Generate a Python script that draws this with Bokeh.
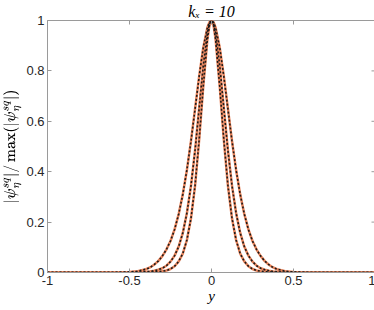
import math
from bokeh.plotting import figure
from bokeh.models import FixedTicker, PrintfTickFormatter, Range1d, Title
from bokeh.embed import file_html
from bokeh.resources import INLINE

# y coordinate
y_vals = [-1.0, -0.8, -0.6, -0.5, -0.45, -0.4, -0.375, -0.35, -0.325, -0.3, -0.275,
          -0.25, -0.225, -0.2, -0.175, -0.15, -0.125, -0.1, -0.075, -0.05, -0.025, -0.0125,
          0.0,
          0.0125, 0.025, 0.05, 0.075, 0.1, 0.125, 0.15, 0.175, 0.2, 0.225, 0.25,
          0.275, 0.3, 0.325, 0.35, 0.375, 0.4, 0.45, 0.5, 0.6, 0.8, 1.0]

# normalised |psi| for the three modes
psi_1 = [0.0, 0.0, 0.0, 0.002, 0.005, 0.013, 0.020, 0.031, 0.045, 0.065, 0.091,
         0.125, 0.171, 0.232, 0.310, 0.407, 0.522, 0.650, 0.779, 0.893, 0.972, 0.993,
         1.0,
         0.993, 0.972, 0.893, 0.779, 0.650, 0.522, 0.407, 0.310, 0.232, 0.171, 0.125,
         0.091, 0.065, 0.045, 0.031, 0.020, 0.013, 0.005, 0.002, 0.0, 0.0, 0.0]
psi_2 = [0.0, 0.0, 0.0, 0.0, 0.001, 0.003, 0.004, 0.007, 0.011, 0.017, 0.027,
         0.043, 0.067, 0.103, 0.157, 0.236, 0.345, 0.486, 0.653, 0.822, 0.951, 0.987,
         1.0,
         0.987, 0.951, 0.822, 0.653, 0.486, 0.345, 0.236, 0.157, 0.103, 0.067, 0.043,
         0.027, 0.017, 0.011, 0.007, 0.004, 0.003, 0.001, 0.0, 0.0, 0.0, 0.0]
psi_3 = [0.0, 0.0, 0.0, 0.0, 0.0, 0.0, 0.001, 0.002, 0.003, 0.005, 0.008,
         0.014, 0.025, 0.044, 0.075, 0.129, 0.215, 0.346, 0.528, 0.740, 0.925, 0.981,
         1.0,
         0.981, 0.925, 0.740, 0.528, 0.346, 0.215, 0.129, 0.075, 0.044, 0.025, 0.014,
         0.008, 0.005, 0.003, 0.002, 0.001, 0.0, 0.0, 0.0, 0.0, 0.0, 0.0]

x_ticks = [-1, -0.5, 0, 0.5, 1]
y_ticks = [0, 0.2, 0.4, 0.6, 0.8, 1]

AX = "#9a9a9a"

p = figure(frame_width=328, frame_height=252, output_backend="svg", toolbar_location=None,
           x_range=Range1d(-1, 1), y_range=Range1d(0, 1),
           min_border_left=0, min_border_right=0, min_border_top=0, min_border_bottom=0)
p.title = Title(text="kₓ = 10", align="center", text_font="Liberation Serif",
                text_font_style="italic", text_font_size="16px", text_color="#000000",
                standoff=1, offset=0)
p.grid.visible = False
p.outline_line_color = AX
p.outline_line_width = 1
p.background_fill_color = "white"
p.border_fill_color = "white"

for ys in (psi_1, psi_2, psi_3):
    p.line(y_vals, ys, line_color="#E8835A", line_width=2.5)
for ys in (psi_1, psi_2, psi_3):
    p.line(y_vals, ys, line_color="#1a1a1a", line_width=1.6, line_dash="2 2")

xa = p.xaxis[0]
xa.ticker = FixedTicker(ticks=x_ticks)
ya = p.yaxis[0]
ya.ticker = FixedTicker(ticks=y_ticks)
for ax in (xa, ya):
    ax.axis_line_color = AX
    ax.major_tick_line_color = AX
    ax.major_tick_in = 4
    ax.major_tick_out = 0
    ax.minor_tick_line_color = None
    ax.major_label_text_font = "Liberation Sans"
    ax.major_label_text_font_size = "13px"
    ax.major_label_text_color = "#262626"
    ax.formatter = PrintfTickFormatter(format="%g")
    ax.major_label_standoff = 3

xa.axis_label = "y"
xa.axis_label_text_font = "Liberation Serif"
xa.axis_label_text_font_style = "italic"
xa.axis_label_text_font_size = "15px"
xa.axis_label_text_color = "#000000"
xa.axis_label_standoff = 0

ya.axis_label = r"$$|\psi_\eta^{sq}|/\max(|\psi_\eta^{sq}|)$$"
ya.axis_label_text_font_size = "13px"
ya.axis_label_text_color = "#000000"
ya.axis_label_standoff = 2

# mirrored tick marks on the top and right edges of the box
p.ray(x=x_ticks, y=[1] * len(x_ticks), length=4, length_units="screen",
      angle=-math.pi / 2, line_color=AX, line_width=1)
p.ray(x=[1] * len(y_ticks), y=y_ticks, length=4, length_units="screen",
      angle=math.pi, line_color=AX, line_width=1)

open("out.html", "w").write(file_html(p, INLINE))
